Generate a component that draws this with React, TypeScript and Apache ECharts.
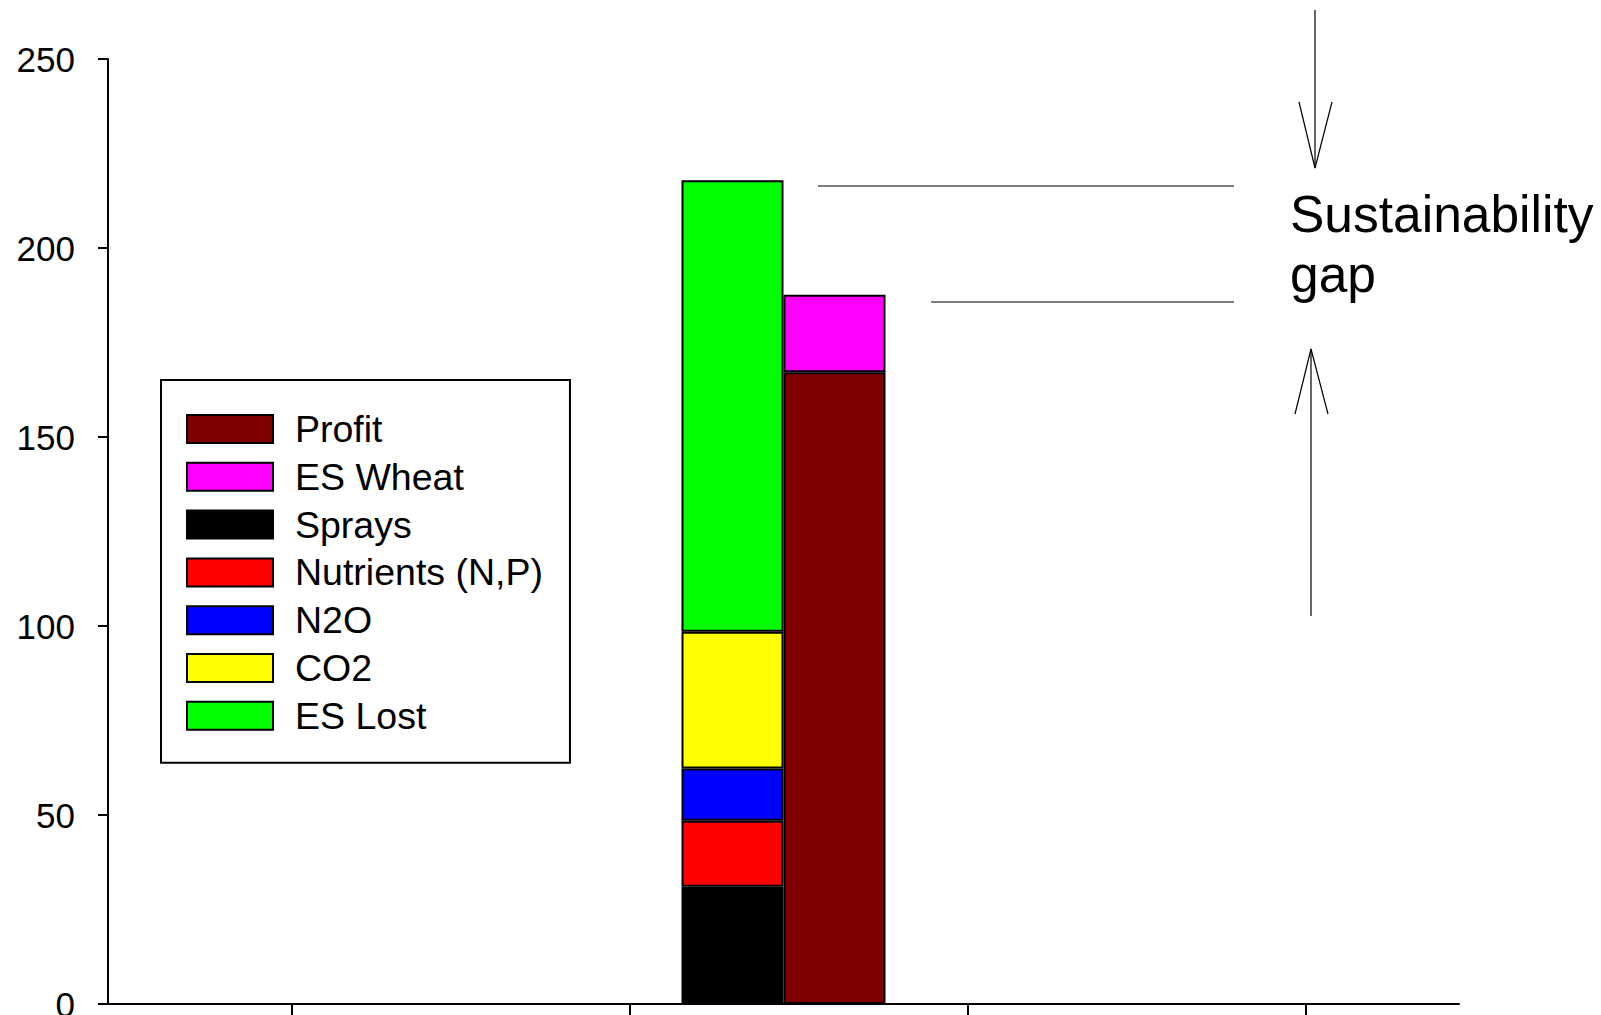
import { useEffect, useRef } from "react";
import * as echarts from "echarts";

// Legend order as listed in the key box
const legendOrder = ["Profit", "ES Wheat", "Sprays", "Nutrients (N,P)", "N2O", "CO2", "ES Lost"];

// Cost stack, bottom to top
const costNames = ["Sprays", "Nutrients (N,P)", "N2O", "CO2", "ES Lost"];
const costValues = [31.0, 17.5, 13.8, 36.2, 119.4];
const costColors = ["#000000", "#ff0000", "#0000ff", "#ffff00", "#00ff00"];

// Return stack, bottom to top
const returnNames = ["Profit", "ES Wheat"];
const returnValues = [167.1, 20.5];
const returnColors = ["#800000", "#ff00ff"];

// Axis settings
const yMin = 0;
const yMax = 250;
const yStep = 50;
const xTickValues = [0.545, 1.545, 2.545, 3.545];

const FONT = "'Liberation Sans', Arial, Helvetica, sans-serif";

function makeStack(names: string[], values: number[], colors: string[], stack: string) {
  return names.map((name, i) => ({
    type: "bar",
    name,
    stack,
    xAxisIndex: 0,
    yAxisIndex: 0,
    barWidth: 102,
    barGap: "0%",
    data: [values[i]],
    itemStyle: { color: colors[i], borderColor: "#000", borderWidth: 2 },
  }));
}

export default function App() {
  const ref = useRef<HTMLDivElement>(null);

  useEffect(() => {
    if (!ref.current) return;
    const chart = echarts.init(ref.current, null, { renderer: "svg" });
    const black = { color: "#000", width: 2 };
    const thin = { stroke: "#000", lineWidth: 1.2, fill: null };

    chart.setOption({
      animation: false,
      backgroundColor: "#ffffff",
      grid: {
        left: 108,
        top: 59,
        width: 1351,
        height: 945,
        containLabel: false,
        outerBoundsMode: "none",
      },
      xAxis: [
        { type: "category", data: [""], show: false },
        {
          type: "value",
          min: 0,
          max: 4,
          position: "bottom",
          axisLine: { show: true, onZero: false, lineStyle: black },
          axisTick: { show: true, length: 12, customValues: xTickValues, lineStyle: black },
          axisLabel: { show: false },
          splitLine: { show: false },
        },
      ],
      yAxis: {
        type: "value",
        min: yMin,
        max: yMax,
        interval: yStep,
        axisLine: { show: true, lineStyle: black },
        axisTick: { show: true, length: 10, lineStyle: black },
        axisLabel: {
          color: "#000",
          fontSize: 35,
          fontFamily: FONT,
          margin: 33,
          padding: [0, 0, 7, 0],
        },
        splitLine: { show: false },
      },
      legend: {
        data: legendOrder,
        orient: "vertical",
        left: 161,
        top: 380,
        padding: [30, 27, 28, 25],
        itemWidth: 86,
        itemHeight: 28,
        itemGap: 9.8,
        icon: "rect",
        borderColor: "#000",
        borderWidth: 2,
        selectedMode: false,
        itemStyle: { borderColor: "#000", borderWidth: 2 },
        textStyle: {
          fontFamily: FONT,
          fontSize: 37.5,
          color: "#000",
          lineHeight: 28,
          padding: [0, 0, 0, 17],
        },
      },
      series: [
        ...makeStack(costNames, costValues, costColors, "cost"),
        ...makeStack(returnNames, returnValues, returnColors, "return"),
      ],
      graphic: [
        { type: "line", shape: { x1: 818, y1: 186, x2: 1234, y2: 186 }, style: thin },
        { type: "line", shape: { x1: 931, y1: 302, x2: 1234, y2: 302 }, style: thin },
        { type: "line", shape: { x1: 1315, y1: 10, x2: 1315, y2: 168 }, style: thin },
        {
          type: "polyline",
          shape: { points: [[1299, 102], [1315, 168], [1332, 102]] },
          style: thin,
        },
        { type: "line", shape: { x1: 1311, y1: 616, x2: 1311, y2: 349 }, style: thin },
        {
          type: "polyline",
          shape: { points: [[1295, 414], [1311, 349], [1328, 414]] },
          style: thin,
        },
        {
          type: "text",
          x: 1290,
          y: 214,
          style: {
            text: "Sustainability",
            fill: "#000",
            fontSize: 51.5,
            fontFamily: FONT,
            verticalAlign: "middle",
          },
        },
        {
          type: "text",
          x: 1290,
          y: 274,
          style: {
            text: "gap",
            fill: "#000",
            fontSize: 51.5,
            fontFamily: FONT,
            verticalAlign: "middle",
          },
        },
      ],
    });

    return () => chart.dispose();
  }, []);

  return (
    <div
      ref={ref}
      style={{ position: "fixed", left: 0, top: 0, width: 1601, height: 1015, background: "#fff" }}
    />
  );
}
